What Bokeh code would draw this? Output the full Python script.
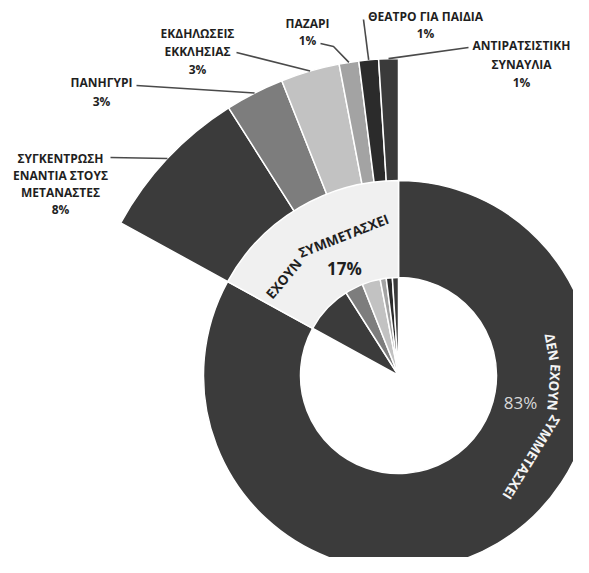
import math
from bokeh.plotting import figure
from bokeh.models import Range1d, ColumnDataSource
from bokeh.embed import file_html
from bokeh.resources import INLINE
from bokeh.core.properties import value

# ---------------- data ----------------
main_labels = ["ΔΕΝ ΕΧΟΥΝ ΣΥΜΜΕΤΑΣΧΕΙ", "ΕΧΟΥΝ ΣΥΜΜΕΤΑΣΧΕΙ"]
main_values = [83, 17]
main_colors = ["#3b3b3b", "#f0f0f0"]

# sub-categories of "ΕΧΟΥΝ ΣΥΜΜΕΤΑΣΧΕΙ", clockwise order
sub_labels = [
    ["ΣΥΓΚΕΝΤΡΩΣΗ", "ΕΝΑΝΤΙΑ ΣΤΟΥΣ", "ΜΕΤΑΝΑΣΤΕΣ"],
    ["ΠΑΝΗΓΥΡΙ"],
    ["ΕΚΔΗΛΩΣΕΙΣ", "ΕΚΚΛΗΣΙΑΣ"],
    ["ΠΑΖΑΡΙ"],
    ["ΘΕΑΤΡΟ ΓΙΑ ΠΑΙΔΙΑ"],
    ["ΑΝΤΙΡΑΤΣΙΣΤΙΚΗ", "ΣΥΝΑΥΛΙΑ"],
]
sub_values = [8, 3, 3, 1, 1, 1]
sub_colors = ["#3b3b3b", "#7d7d7d", "#c2c2c2", "#a3a3a3", "#2b2b2b", "#3a3a3a"]

# ---------------- layout ----------------
W, H = 573, 557
CX, CY = 398, -375          # centre in picture-pixel coordinates (y up)
R_IN, R_OUT, R_SUB = 98, 195, 317
FONT = "Open Sans"

p = figure(width=W, height=H, output_backend="svg", toolbar_location=None,
           x_range=Range1d(0, W), y_range=Range1d(-H, 0),
           min_border=0, tools="")
p.axis.visible = False
p.grid.visible = False
p.outline_line_color = None
p.background_fill_color = "white"
p.border_fill_color = "white"

deg = math.pi / 180.0
unit = 360.0 / sum(main_values)

# sub pie (exploded), inside the 17% sector
starts, ends = [], []
cum = main_values[0]
for v in sub_values:
    ends.append((90 - unit * cum) * deg)
    starts.append((90 - unit * (cum + v)) * deg)
    cum += v
sub_src = ColumnDataSource(dict(s=starts, e=ends, c=sub_colors))
p.wedge(x=CX, y=CY, radius=R_SUB, start_angle="s", end_angle="e",
        direction="anticlock", fill_color="c", line_color="white",
        line_width=1.5, source=sub_src)

# main donut
m_starts, m_ends = [], []
cum = 0
for v in main_values:
    m_ends.append((90 - unit * cum) * deg)
    m_starts.append((90 - unit * (cum + v)) * deg)
    cum += v
main_src = ColumnDataSource(dict(s=m_starts, e=m_ends, c=main_colors))
p.annular_wedge(x=CX, y=CY, inner_radius=R_IN, outer_radius=R_OUT,
                start_angle="s", end_angle="e", direction="anticlock",
                fill_color="c", line_color="white", line_width=1.5,
                source=main_src)

# ---------------- leader lines & labels ----------------
label_pos = [(60, 158, 17), (101, 82, 19), (197, 33, 18),
             (307, 23, 17), (425, 15.5, 17.5), (521, 45, 18.5)]
leader_start = [[(110, 157)], [(136, 85)], [(236, 52)],
                [(320, 43), (333, 46)], [(363, 19)], [(468, 47)]]

for i, v in enumerate(sub_values):
    mid = (starts[i] + ends[i]) / 2
    ex = CX + R_SUB * math.cos(mid)
    ey = CY + R_SUB * math.sin(mid)
    xs = [pt[0] for pt in leader_start[i]] + [ex]
    ys = [-pt[1] for pt in leader_start[i]] + [ey]
    p.line(xs, ys, line_color="#4a4a4a", line_width=1.6)
    lx, ly, sp = label_pos[i]
    lines = sub_labels[i] + [f"{v}%"]
    p.text(x=[lx] * len(lines), y=[-(ly + k * sp) for k in range(len(lines))],
           text=lines, text_font=value(FONT), text_font_style="bold",
           text_font_size="12px", text_color="#1f1f1f",
           text_align="center", text_baseline="middle")

# ---------------- curved ring labels ----------------
WID = {"Α": .69, "Β": .66, "Γ": .55, "Δ": .68, "Ε": .55, "Ζ": .58, "Η": .77,
       "Θ": .79, "Ι": .37, "Κ": .66, "Λ": .66, "Μ": .94, "Ν": .81, "Ξ": .57,
       "Ο": .79, "Π": .76, "Ρ": .63, "Σ": .58, "Τ": .58, "Υ": .62, "Φ": .86,
       "Χ": .66, "Ψ": .84, "Ω": .78, " ": .26}


def arc_words(text, r, centre_deg, size):
    words = text.split(" ")
    ww = [sum(WID.get(ch, .6) for ch in w) * size for w in words]
    sw = WID[" "] * size
    total = sum(ww) + sw * (len(words) - 1)
    th0 = centre_deg * deg + (total / 2) / r
    xs, ys, angs = [], [], []
    off = 0
    for w_, wd in zip(words, ww):
        th = th0 - (off + wd / 2) / r
        xs.append(CX + r * math.cos(th))
        ys.append(CY + r * math.sin(th))
        angs.append(th - math.pi / 2)
        off += wd + sw
    return words, xs, ys, angs


w, xs, ys, a = arc_words(main_labels[1], 150, 121, 13.5)
p.text(x=xs, y=ys, text=w, angle=a, text_font=value(FONT),
       text_font_style="bold", text_font_size="13.5px", text_color="#1f1f1f",
       text_align="center", text_baseline="middle")
p.text(x=[344], y=[-268], text=[f"{main_values[1]}%"], text_font=value(FONT),
       text_font_style="bold", text_font_size="17px", text_color="#1f1f1f",
       text_align="center", text_baseline="middle")

w, xs, ys, a = arc_words(main_labels[0], 156, -16.8, 13.5)
p.text(x=xs, y=ys, text=w, angle=a, text_font=value(FONT),
       text_font_style="bold", text_font_size="13.5px", text_color="#f4f4f4",
       text_align="center", text_baseline="middle")
p.text(x=[520], y=[-402], text=[f"{main_values[0]}%"], text_font=value(FONT),
       text_font_size="17px", text_color="#d8d8d8",
       text_align="center", text_baseline="middle")

open("out.html", "w").write(file_html(p, INLINE))
